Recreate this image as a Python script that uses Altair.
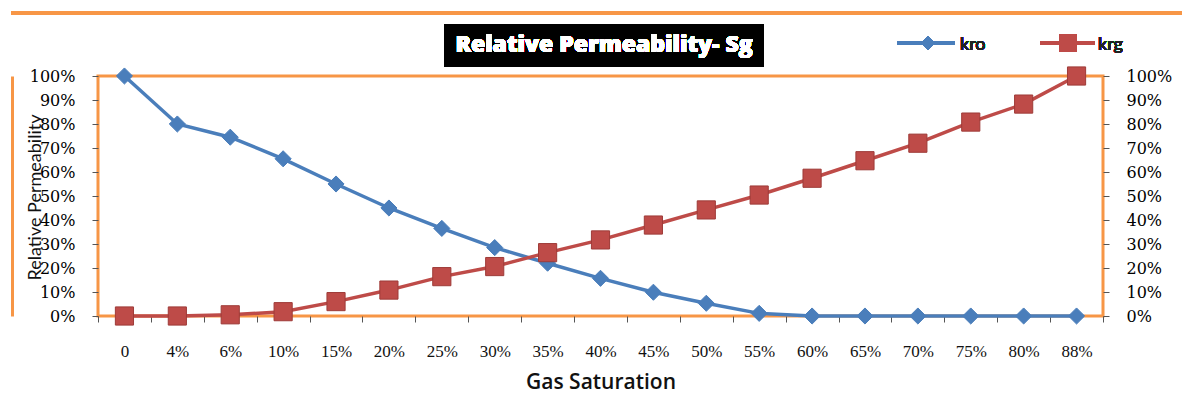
import altair as alt
import pandas as pd

# Gas saturation categories and relative permeability curves
sg_labels = ["0", "4%", "6%", "10%", "15%", "20%", "25%", "30%", "35%", "40%",
             "45%", "50%", "55%", "60%", "65%", "70%", "75%", "80%", "88%"]
kro = [1.00, 0.80, 0.745, 0.655, 0.55, 0.45, 0.365, 0.285, 0.22, 0.157,
       0.099, 0.053, 0.011, 0.0, 0.0, 0.0, 0.0, 0.0, 0.0]
krg = [0.0, 0.0, 0.005, 0.018, 0.06, 0.108, 0.164, 0.206, 0.264, 0.317,
       0.379, 0.442, 0.504, 0.574, 0.647, 0.72, 0.808, 0.883, 1.0]
series_names = ["kro", "krg"]
y_ticks = [i / 10 for i in range(11)]

BLUE = "#4A7EBB"
RED = "#BE4B48"
ORANGE = "#F79646"

df = pd.DataFrame({
    "sg": sg_labels * 2,
    "series": [series_names[0]] * len(sg_labels) + [series_names[1]] * len(sg_labels),
    "value": kro + krg,
})

color_scale = alt.Scale(domain=series_names, range=[BLUE, RED])

x_enc = alt.X(
    "sg:N", sort=sg_labels,
    scale=alt.Scale(type="band", paddingInner=0, paddingOuter=0),
    axis=alt.Axis(
        title="Gas Saturation", titleFont="Open Sans", titleFontSize=21, titleFontWeight=600,
        titleColor="#111", titleY=72, titleBaseline="alphabetic",
        labelFont="Liberation Serif", labelFontSize=17, labelColor="#111", labelAngle=0,
        labelPadding=21, tickSize=6, tickColor="#555", tickBand="extent", domain=False,
    ),
)

y_scale = alt.Scale(domain=[0, 1], nice=False)


def y_enc(orient):
    if orient == "left":
        ax = alt.Axis(
            orient="left", values=y_ticks, format=".0%", grid=False, domain=False,
            labelFont="DejaVu Serif", labelFontSize=16, labelColor="#000",
            labelPadding=17, tickSize=6, tickColor="#555",
            title="Relative Permeability", titleFont="Lato", titleFontSize=18,
            titleFontWeight="normal", titleColor="#111", titleAngle=270,
            titleX=-58, titleY=121, titleAlign="center", titleBaseline="alphabetic",
        )
    else:
        ax = alt.Axis(
            orient="right", values=y_ticks, format=".0%", grid=False, domain=False,
            labelFont="DejaVu Serif", labelFontSize=16, labelColor="#000",
            labelPadding=17, tickSize=6, tickColor="#555", title=None,
        )
    return alt.Y("value:Q", scale=y_scale, axis=ax)


def series_layer(name, shape, size, stroke, orient):
    base = alt.Chart(df).transform_filter(alt.datum.series == name)
    enc = dict(x=x_enc, y=y_enc(orient),
               color=alt.Color("series:N", scale=color_scale, legend=None))
    line = base.mark_line(strokeWidth=3.5).encode(**enc)
    pts = base.mark_point(shape=shape, size=size, filled=True, opacity=1,
                          stroke=stroke, strokeWidth=1).encode(**enc)
    return alt.layer(line, pts)


kro_layer = series_layer("kro", "diamond", 260, BLUE, "left")
krg_layer = series_layer("krg", "square", 330, "#9E3B38", "right")

# Outer frame: top edge as a rule, left edge as an offset axis domain line
frame_top = alt.Chart(df).mark_rule(color=ORANGE, strokeWidth=3).encode(
    x=alt.value(-87), x2=alt.value(1084), y=alt.value(-63))
frame_left = alt.Chart(df).mark_point(opacity=0).encode(
    x=x_enc,
    y=alt.Y("value:Q", scale=y_scale, axis=alt.Axis(
        orient="left", offset=86, domain=True, domainColor=ORANGE, domainWidth=3,
        ticks=False, labels=False, grid=False, title=None)),
)

# Title box
title_box = alt.Chart(df).mark_rect(color="black").encode(
    x=alt.value(346), x2=alt.value(666), y=alt.value(-52), y2=alt.value(-9)
)
title_text = alt.Chart(df).mark_text(
    text="Relative Permeability- Sg", font="Open Sans", fontSize=23, fontWeight=800,
    color="white", align="center", baseline="middle"
).encode(x=alt.value(506), y=alt.value(-31))

# Legend glyphs
leg_blue_line = alt.Chart(df).mark_rule(color=BLUE, strokeWidth=3.5).encode(
    x=alt.value(799), x2=alt.value(857), y=alt.value(-33))
leg_blue_pt = alt.Chart(df).mark_point(shape="diamond", size=200, filled=True, color=BLUE,
                                       opacity=1).encode(x=alt.value(830), y=alt.value(-33))
leg_blue_txt = alt.Chart(df).mark_text(text=series_names[0], font="Lato", fontSize=18,
                                       color="#222", align="left", baseline="middle").encode(
    x=alt.value(862), y=alt.value(-31))
leg_red_line = alt.Chart(df).mark_rule(color=RED, strokeWidth=3.5).encode(
    x=alt.value(942), x2=alt.value(997), y=alt.value(-33))
leg_red_pt = alt.Chart(df).mark_point(shape="square", size=300, filled=True, color=RED,
                                      opacity=1).encode(x=alt.value(970), y=alt.value(-33))
leg_red_txt = alt.Chart(df).mark_text(text=series_names[1], font="Lato", fontSize=18,
                                      color="#222", align="left", baseline="middle").encode(
    x=alt.value(1000), y=alt.value(-31))

chart = alt.layer(
    frame_top, frame_left, title_box, title_text,
    leg_blue_line, leg_blue_pt, leg_blue_txt, leg_red_line, leg_red_pt, leg_red_txt,
    kro_layer, krg_layer,
).resolve_axis(y="independent").properties(
    width=1005, height=240,
    autosize="none",
    padding={"left": 98, "top": 76, "right": 79, "bottom": 79},
    background="white",
).configure_view(stroke=ORANGE, strokeWidth=3)

chart.save("out.html", embed_options={"renderer": "svg", "actions": False})
